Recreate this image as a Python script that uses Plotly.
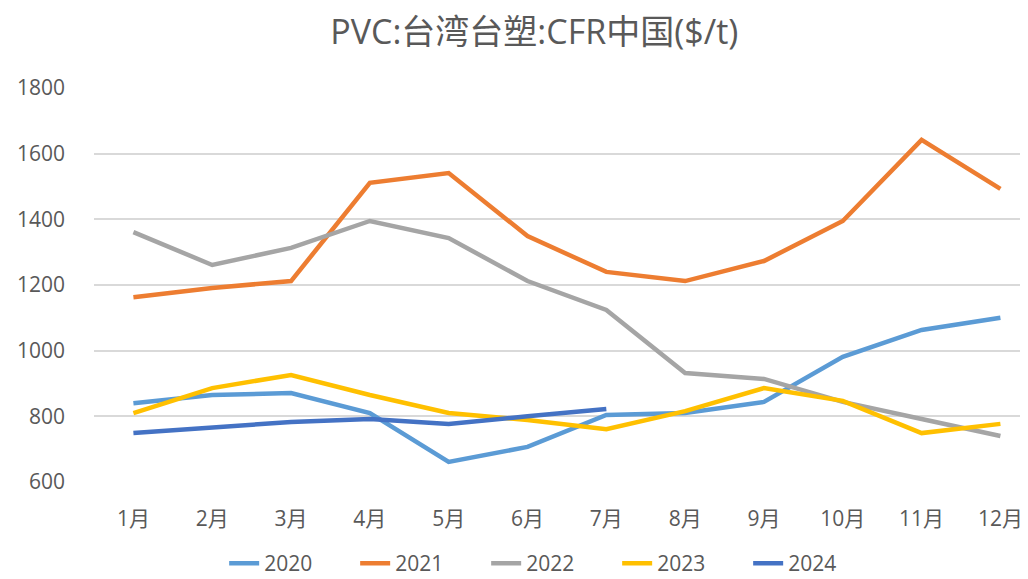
import plotly.graph_objects as go

months = ["1月", "2月", "3月", "4月", "5月", "6月", "7月", "8月", "9月", "10月", "11月", "12月"]
v2020 = [840, 865, 871, 810, 661, 707, 804, 810, 844, 981, 1063, 1100]
v2021 = [1163, 1191, 1212, 1511, 1541, 1349, 1240, 1212, 1273, 1395, 1642, 1493]
v2022 = [1361, 1261, 1313, 1395, 1343, 1212, 1124, 932, 914, 844, 792, 740]
v2023 = [810, 886, 926, 865, 810, 789, 761, 816, 886, 847, 749, 777]
v2024 = [749, 765, 783, 792, 777, 800, 822]

series = [
    ("2020", v2020, "#5B9BD5"),
    ("2021", v2021, "#ED7D31"),
    ("2022", v2022, "#A5A5A5"),
    ("2023", v2023, "#FFC000"),
    ("2024", v2024, "#4472C4"),
]

W, H = 1020, 571
font_family = "Open Sans, Noto Sans CJK SC, sans-serif"
fig = go.Figure()
for name, vals, color in series:
    fig.add_trace(go.Scatter(
        x=months[:len(vals)], y=vals, name=name, mode="lines",
        line=dict(color=color, width=4.5, shape="linear"),
    ))

fig.update_layout(
    width=W, height=H,
    paper_bgcolor="white", plot_bgcolor="white",
    margin=dict(l=86, r=0, t=80, b=97, autoexpand=False),
    title=dict(text="PVC:台湾台塑:CFR中国($/t)", x=0.516, xanchor="center",
               y=1 - 24 / H, yanchor="middle",
               font=dict(family=font_family, size=34, color="#595959")),
    font=dict(family=font_family, color="#595959"),
    showlegend=True,
    legend=dict(orientation="h", x=0.49, xanchor="center", y=-0.207, yanchor="middle",
                font=dict(size=21, color="#595959"), entrywidth=86,
                entrywidthmode="pixels", tracegroupgap=0),
)
fig.update_xaxes(type="category", range=[-0.5, 11.35], showgrid=False, showline=False,
                 zeroline=False, tickfont=dict(size=21, color="#595959"),
                 ticks="", ticklabelstandoff=22, automargin=False)
fig.update_yaxes(range=[600, 1800], dtick=200, showgrid=True, gridcolor="#D9D9D9",
                 gridwidth=1.5, zeroline=False, showline=False,
                 tickfont=dict(size=21, color="#595959"), ticklabelstandoff=28,
                 automargin=False)

fig.write_html("out.html")
